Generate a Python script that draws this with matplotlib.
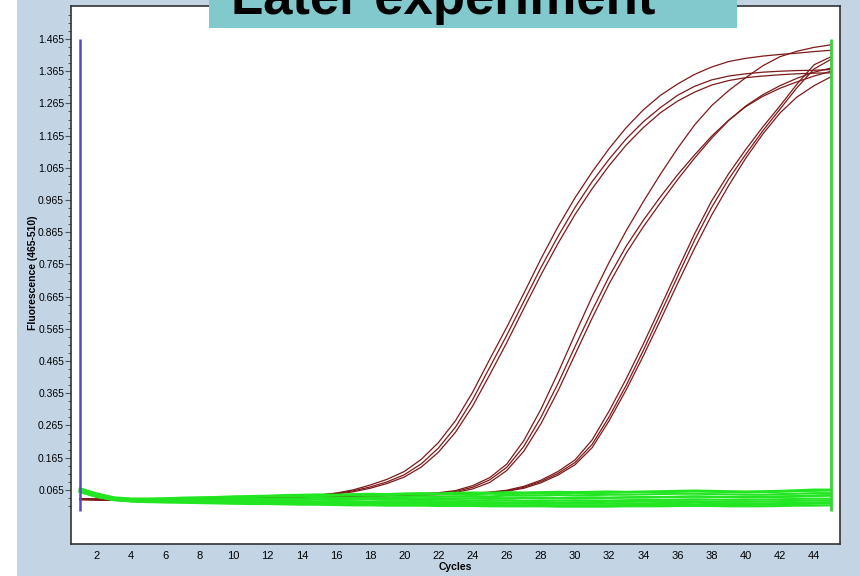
import numpy as np
import matplotlib.pyplot as plt
from matplotlib.patches import Rectangle

cycles = np.arange(1, 46)

# amplification curves, three dilutions in triplicate
amp_a1 = [0.036,0.035,0.034,0.034,0.035,0.035,0.036,0.037,0.038,0.039,
          0.040,0.041,0.043,0.045,0.049,0.055,0.065,0.080,0.098,0.122,
          0.160,0.212,0.280,0.368,0.470,0.570,0.675,0.782,0.882,0.972,
          1.052,1.125,1.190,1.245,1.290,1.325,1.355,1.378,1.395,1.405,
          1.412,1.417,1.421,1.426,1.430]
amp_a2 = [0.037,0.036,0.035,0.035,0.036,0.036,0.037,0.038,0.039,0.040,
          0.041,0.042,0.044,0.046,0.049,0.054,0.062,0.074,0.090,0.112,
          0.146,0.195,0.260,0.345,0.445,0.545,0.650,0.755,0.852,0.942,
          1.022,1.092,1.155,1.208,1.252,1.290,1.318,1.338,1.350,1.357,
          1.362,1.365,1.367,1.368,1.370]
amp_a3 = [0.035,0.034,0.033,0.033,0.034,0.034,0.035,0.036,0.037,0.038,
          0.039,0.040,0.042,0.044,0.047,0.052,0.059,0.070,0.085,0.105,
          0.136,0.182,0.244,0.325,0.422,0.522,0.628,0.732,0.830,0.920,
          1.000,1.072,1.136,1.190,1.236,1.272,1.300,1.322,1.336,1.345,
          1.350,1.354,1.357,1.359,1.360]
amp_b1 = [0.038,0.037,0.036,0.036,0.037,0.037,0.038,0.039,0.040,0.041,
          0.042,0.043,0.044,0.045,0.046,0.047,0.048,0.049,0.050,0.051,
          0.053,0.056,0.063,0.078,0.103,0.145,0.218,0.315,0.428,0.548,
          0.665,0.772,0.870,0.960,1.045,1.125,1.198,1.258,1.305,1.345,
          1.382,1.410,1.427,1.439,1.447]
amp_b2 = [0.036,0.035,0.034,0.034,0.035,0.035,0.036,0.037,0.038,0.039,
          0.040,0.041,0.042,0.043,0.044,0.045,0.046,0.047,0.048,0.049,
          0.051,0.054,0.060,0.073,0.096,0.135,0.200,0.290,0.395,0.510,
          0.622,0.728,0.822,0.902,0.975,1.043,1.105,1.163,1.213,1.255,
          1.287,1.312,1.332,1.350,1.365]
amp_b3 = [0.035,0.034,0.033,0.033,0.034,0.034,0.035,0.036,0.037,0.038,
          0.039,0.040,0.041,0.042,0.043,0.044,0.045,0.046,0.047,0.048,
          0.050,0.052,0.057,0.068,0.088,0.125,0.185,0.270,0.372,0.485,
          0.598,0.705,0.800,0.882,0.956,1.028,1.095,1.157,1.212,1.257,
          1.292,1.320,1.343,1.362,1.375]
amp_c1 = [0.037,0.036,0.035,0.035,0.036,0.036,0.037,0.038,0.039,0.040,
          0.041,0.042,0.043,0.044,0.045,0.046,0.047,0.048,0.049,0.050,
          0.051,0.052,0.053,0.055,0.058,0.064,0.076,0.095,0.122,0.158,
          0.220,0.310,0.410,0.518,0.632,0.747,0.860,0.962,1.047,1.122,
          1.192,1.257,1.325,1.385,1.410]
amp_c2 = [0.036,0.035,0.034,0.034,0.035,0.035,0.036,0.037,0.038,0.039,
          0.040,0.041,0.042,0.043,0.044,0.045,0.046,0.047,0.048,0.049,
          0.050,0.051,0.052,0.054,0.057,0.062,0.073,0.091,0.116,0.150,
          0.206,0.292,0.390,0.498,0.612,0.727,0.840,0.942,1.030,1.107,
          1.180,1.247,1.314,1.372,1.402]
amp_c3 = [0.035,0.034,0.033,0.033,0.034,0.034,0.035,0.036,0.037,0.038,
          0.039,0.040,0.041,0.042,0.043,0.044,0.045,0.046,0.047,0.048,
          0.049,0.050,0.051,0.053,0.056,0.061,0.070,0.087,0.111,0.143,
          0.196,0.280,0.376,0.481,0.592,0.705,0.815,0.918,1.010,1.095,
          1.170,1.235,1.285,1.320,1.348]

# negative samples, flat line near background
neg_1 = [0.070,0.054,0.042,0.038,0.038,0.039,0.041,0.042,0.043,0.045,
         0.046,0.047,0.049,0.050,0.051,0.050,0.052,0.053,0.052,0.054,
         0.055,0.054,0.056,0.057,0.056,0.058,0.057,0.058,0.059,0.058,
         0.059,0.060,0.059,0.060,0.061,0.062,0.063,0.062,0.061,0.060,
         0.061,0.062,0.064,0.066,0.066]
neg_2 = [0.066,0.048,0.038,0.034,0.033,0.034,0.035,0.035,0.036,0.037,
         0.037,0.038,0.039,0.039,0.041,0.040,0.041,0.042,0.042,0.043,
         0.044,0.043,0.045,0.046,0.045,0.047,0.047,0.048,0.049,0.048,
         0.049,0.050,0.050,0.051,0.052,0.053,0.053,0.052,0.051,0.050,
         0.050,0.052,0.053,0.055,0.055]
neg_3 = [0.064,0.047,0.036,0.032,0.031,0.031,0.031,0.032,0.033,0.032,
         0.033,0.034,0.033,0.034,0.035,0.034,0.035,0.036,0.035,0.036,
         0.037,0.036,0.037,0.038,0.037,0.038,0.039,0.038,0.039,0.040,
         0.039,0.040,0.041,0.041,0.042,0.043,0.044,0.043,0.042,0.041,
         0.042,0.043,0.044,0.046,0.047]
neg_4 = [0.062,0.045,0.035,0.031,0.030,0.030,0.030,0.031,0.030,0.030,
         0.030,0.029,0.030,0.029,0.029,0.030,0.029,0.029,0.030,0.030,
         0.031,0.030,0.030,0.031,0.031,0.032,0.031,0.031,0.032,0.033,
         0.032,0.032,0.033,0.034,0.034,0.035,0.036,0.035,0.034,0.034,
         0.035,0.036,0.037,0.038,0.038]
neg_5 = [0.060,0.044,0.034,0.030,0.029,0.028,0.028,0.028,0.027,0.027,
         0.026,0.026,0.026,0.025,0.025,0.024,0.024,0.024,0.023,0.023,
         0.023,0.022,0.023,0.022,0.022,0.022,0.022,0.021,0.022,0.022,
         0.022,0.022,0.023,0.023,0.024,0.024,0.025,0.024,0.023,0.023,
         0.023,0.024,0.025,0.026,0.027]
neg_6 = [0.058,0.043,0.033,0.029,0.027,0.026,0.025,0.024,0.023,0.022,
         0.021,0.021,0.020,0.019,0.019,0.018,0.017,0.017,0.016,0.016,
         0.016,0.015,0.015,0.015,0.014,0.014,0.014,0.014,0.013,0.013,
         0.013,0.013,0.014,0.014,0.014,0.015,0.015,0.015,0.014,0.014,
         0.014,0.015,0.016,0.016,0.017]
neg_7 = [0.068,0.051,0.040,0.037,0.037,0.038,0.039,0.040,0.041,0.042,
         0.043,0.044,0.045,0.046,0.046,0.047,0.048,0.048,0.049,0.050,
         0.050,0.051,0.051,0.052,0.053,0.052,0.053,0.054,0.054,0.055,
         0.055,0.056,0.057,0.058,0.058,0.059,0.060,0.059,0.058,0.057,
         0.058,0.059,0.061,0.062,0.063]
neg_8 = [0.063,0.046,0.036,0.032,0.031,0.032,0.032,0.033,0.033,0.034,
         0.034,0.035,0.035,0.036,0.036,0.037,0.036,0.037,0.038,0.037,
         0.038,0.038,0.039,0.039,0.040,0.039,0.040,0.041,0.040,0.041,
         0.042,0.041,0.042,0.043,0.043,0.044,0.045,0.044,0.043,0.043,
         0.044,0.045,0.046,0.048,0.049]
neg_9 = [0.061,0.045,0.035,0.031,0.030,0.029,0.029,0.029,0.028,0.028,
         0.027,0.027,0.027,0.026,0.026,0.026,0.025,0.026,0.025,0.025,
         0.025,0.025,0.026,0.025,0.026,0.026,0.026,0.027,0.026,0.027,
         0.027,0.028,0.028,0.029,0.029,0.030,0.030,0.029,0.028,0.028,
         0.029,0.030,0.031,0.032,0.033]
neg_10 = [0.059,0.044,0.034,0.030,0.028,0.027,0.027,0.026,0.025,0.024,
          0.024,0.023,0.023,0.022,0.021,0.021,0.020,0.020,0.019,0.019,
          0.019,0.018,0.018,0.018,0.018,0.017,0.017,0.017,0.017,0.017,
          0.017,0.017,0.018,0.018,0.018,0.019,0.019,0.019,0.018,0.018,
          0.019,0.020,0.021,0.022,0.023]

amp_curves = [amp_a1, amp_a2, amp_a3, amp_b1, amp_b2, amp_b3, amp_c1, amp_c2, amp_c3]
neg_curves = [neg_1, neg_2, neg_3, neg_4, neg_5, neg_6, neg_7, neg_8, neg_9, neg_10]

y_major = np.round(np.arange(0.065, 1.466, 0.1), 3)
y_minor = np.arange(0.015, 1.55, 0.025)
x_major = np.arange(2, 45, 2)

fig = plt.figure(figsize=(8.6, 5.76), dpi=100)
fig.patch.set_facecolor("#c3d5e5")
fig.patches.append(Rectangle((0, 0), 17/860, 1, transform=fig.transFigure,
                             facecolor="white", edgecolor="none", zorder=0))

ax = fig.add_axes([71/860, 32/576, 769/860, 538/576])
ax.set_facecolor("white")

for c in amp_curves:
    ax.plot(cycles, c, color="#7d1a1a", lw=0.9, zorder=2)
for c in neg_curves:
    ax.plot(cycles, c, color="#22e622", lw=1.5, zorder=3)

# start / end markers
ax.vlines(1, -0.002, 1.465, color="#5548c4", lw=1.8, zorder=4)
ax.vlines(45, -0.002, 1.465, color="#3fd03f", lw=2.0, zorder=4)

ax.set_xlim(0.48, 45.52)
ax.set_ylim(-0.103, 1.5675)

ax.set_yticks(y_major)
ax.set_yticklabels(["%.3f" % v for v in y_major], fontsize=7.5, family="Liberation Sans")
ax.set_yticks(y_minor, minor=True)
ax.set_xticks(x_major)
ax.set_xticklabels([str(v) for v in x_major], fontsize=8,
                   family=["Liberation Sans Narrow", "Liberation Sans"])
ax.tick_params(axis="y", which="major", length=4, width=0.8, color="#555555", pad=1)
ax.tick_params(axis="y", which="minor", length=2.5, width=0.7, color="#555555")
ax.tick_params(axis="x", length=0, pad=5)

for s in ax.spines.values():
    s.set_color("#333333")
    s.set_linewidth(1.2)

ax.set_xlabel("Cycles", fontsize=7.5, fontweight="bold",
              family=["Liberation Sans Narrow", "Liberation Sans"], labelpad=1)
fig.text(33/860, 1 - 273/576, "Fluorescence (465-510)", rotation=90,
         ha="center", va="center", fontsize=7.5, fontweight="bold",
         family="Liberation Sans")

# title banner at the top
fig.patches.append(Rectangle((209/860, 1 - 28/576), 528/860, 28/576,
                             transform=fig.transFigure, facecolor="#82c9ce",
                             edgecolor="none", zorder=5))
fig.text(231/860, 1 - 14/576, "Later experiment", ha="left", va="baseline",
         fontsize=38, fontweight="bold", family="Liberation Sans", zorder=6)

fig.savefig("out.png", dpi=100, facecolor=fig.get_facecolor())
